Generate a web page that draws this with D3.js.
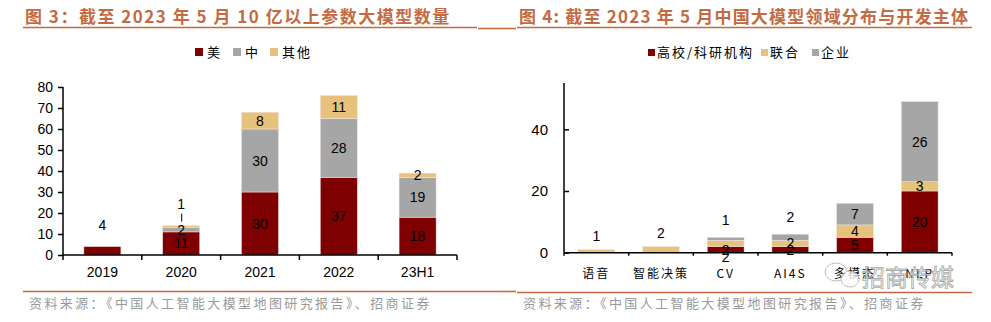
<!DOCTYPE html>
<html><head><meta charset="utf-8">
<script src="https://cdn.jsdelivr.net/npm/d3@7"></script>
<style>
body{margin:0;background:#fff;}
svg{display:block;}
</style></head>
<body>
<svg id="c" width="991" height="322"></svg>
<script>
// ---- Data: chart 3 ----
const years = ["2019","2020","2021","2022","23H1"];
const usVals = [4, 11, 30, 37, 18];
const cnVals = [0, 2, 30, 28, 19];
const otherVals = [0, 1, 8, 11, 2];
const legend1 = ["美","中","其他"];
const yTicks1 = [0,10,20,30,40,50,60,70,80];

// ---- Data: chart 4 ----
const domains = ["语音","智能决策","CV","AI4S","多模态","NLP"];
const uniVals = [0, 0, 2, 2, 5, 20];
const jointVals = [1, 2, 2, 2, 4, 3];
const corpVals = [0, 0, 1, 2, 7, 26];
const legend2 = ["高校/科研机构","联合","企业"];
const yTicks2 = [0,20,40];

const title1 = "图 3：截至 2023 年 5 月 10 亿以上参数大模型数量";
const title2 = "图 4: 截至 2023 年 5 月中国大模型领域分布与开发主体";
const source = "资料来源：《中国人工智能大模型地图研究报告》、招商证券";

const colors = ["#7f0000", "#a6a6a6", "#e6c27c"];
const colors2 = ["#7f0000", "#e6c27c", "#a6a6a6"];
const accent = "#c46a42";
const numFont = "'Liberation Sans', Arial, sans-serif";
const cjkFont = "'Noto Sans CJK SC', sans-serif";

const svg = d3.select("#c");

// Titles & rules
svg.append("text").attr("x",25).attr("y",23).attr("fill",accent)
  .attr("font-family",cjkFont).attr("font-weight","bold").attr("font-size",17).attr("letter-spacing",1.5).text(title1);
svg.append("text").attr("x",519).attr("y",23).attr("fill",accent)
  .attr("font-family",cjkFont).attr("font-weight","bold").attr("font-size",17).attr("letter-spacing",1.2).text(title2);
const rules = [[23,477,27.5],[478,500,28.5],[500,516,28.5],[517,972,27.5],[23,500,291.5],[500,516,291.5],[517,972,292.5]];
rules.forEach(r=>svg.append("line").attr("x1",r[0]).attr("x2",r[1]).attr("y1",r[2]).attr("y2",r[2])
  .attr("stroke",accent).attr("stroke-width",1.6));
svg.append("text").attr("x",29).attr("y",308).attr("fill","#9a9a9a").attr("font-family",cjkFont)
  .attr("font-size",13).attr("letter-spacing",2.4).text(source);
svg.append("text").attr("x",523).attr("y",308).attr("fill","#9a9a9a").attr("font-family",cjkFont)
  .attr("font-size",13).attr("letter-spacing",2.4).text(source);

// ---------- Chart 3 ----------
{
  const g = svg.append("g");
  const x = d3.scaleBand().domain(years).range([63,457]).paddingInner(0.53).paddingOuter(0.265);
  const y = d3.scaleLinear().domain([0,80]).range([255,87]);
  const table = years.map((yr,i)=>({key:yr, s0:usVals[i], s1:cnVals[i], s2:otherVals[i]}));
  const stack = d3.stack().keys(["s0","s1","s2"])(table);
  stack.forEach((layer,k)=>{
    g.selectAll(null).data(layer).join("rect")
      .attr("x",d=>x(d.data.key)).attr("width",x.bandwidth())
      .attr("y",d=>y(d[1])).attr("height",d=>y(d[0])-y(d[1]))
      .attr("fill",colors[k]).attr("stroke","#f3e3e3").attr("stroke-width",0.5);
  });
  // Axes
  const ya = d3.axisLeft(y).tickValues(yTicks1).tickSize(5).tickPadding(5);
  const yg = g.append("g").attr("transform","translate(63,0)").call(ya);
  yg.select(".domain").attr("stroke","#000").attr("stroke-width",1.5).attr("d","M0,87V255");
  yg.selectAll("text").attr("font-family",numFont).attr("font-size",14).attr("fill","#000");
  yg.selectAll(".tick line").attr("stroke-width",1.5);
  const xg = g.append("g").attr("transform","translate(0,255)");
  xg.append("line").attr("x1",63).attr("x2",457).attr("stroke","#000").attr("stroke-width",1.6);
  const edges = years.map(d=>x(d)-x.step()*x.paddingInner()/2).concat([457]);
  edges.forEach(e=>xg.append("line").attr("x1",e).attr("x2",e).attr("y1",0).attr("y2",5).attr("stroke","#000").attr("stroke-width",1.5));
  years.forEach(yr=>xg.append("text").attr("x",x(yr)+x.bandwidth()/2).attr("y",22).attr("text-anchor","middle")
    .attr("font-family",numFont).attr("font-size",14).text(yr));
  // Labels
  stack.forEach((layer,k)=>{
    layer.forEach((d,i)=>{
      const v = d[1]-d[0];
      if(!v) return;
      const cx = x(d.data.key)+x.bandwidth()/2;
      let cy = y((d[0]+d[1])/2)+5;
      if(d.data.key==="2019") cy = y(d[1])-17;
      if(d.data.key==="2020" && k===2){
        cy = y(d[1])-17;
        g.append("line").attr("x1",cx+0.5).attr("x2",cx+0.5).attr("y1",y(d[1])-12).attr("y2",y(d[1])-4).attr("stroke","#000").attr("stroke-width",1);
      }
      g.append("text").attr("x",cx).attr("y",cy).attr("text-anchor","middle")
        .attr("font-family",numFont).attr("font-size",14).attr("fill","#000").text(v);
    });
  });
  // Legend
  const lx = [195,233,270];
  legend1.forEach((t,i)=>{
    g.append("rect").attr("x",lx[i]).attr("y",48).attr("width",8).attr("height",8).attr("fill",colors[i]);
    g.append("text").attr("x",lx[i]+12).attr("y",57).attr("font-family",cjkFont).attr("font-size",13).attr("letter-spacing",2).text(t);
  });
}

// ---------- Chart 4 ----------
{
  const g = svg.append("g");
  const x = d3.scaleBand().domain(domains).range([564,952]).paddingInner(0.43).paddingOuter(0.215);
  const y = d3.scaleLinear().domain([0,55]).range([252.7,83]);
  const table = domains.map((c,i)=>({key:c, s0:uniVals[i], s1:jointVals[i], s2:corpVals[i]}));
  const stack = d3.stack().keys(["s0","s1","s2"])(table);
  stack.forEach((layer,k)=>{
    g.selectAll(null).data(layer.filter(d=>d[1]>d[0])).join("rect")
      .attr("x",d=>x(d.data.key)).attr("width",x.bandwidth())
      .attr("y",d=>y(d[1])).attr("height",d=>y(d[0])-y(d[1]))
      .attr("fill",colors2[k]).attr("stroke","#f3e3e3").attr("stroke-width",0.5);
  });
  const ya = d3.axisLeft(y).tickValues(yTicks2).tickSize(-5).tickPadding(16);
  const yg = g.append("g").attr("transform","translate(564,0)").call(ya);
  yg.select(".domain").attr("stroke","#000").attr("stroke-width",1.5).attr("d","M0,83V252.7");
  yg.selectAll("text").attr("font-family",numFont).attr("font-size",15).attr("fill","#000");
  yg.selectAll(".tick line").attr("stroke-width",1.5);
  const xg = g.append("g").attr("transform","translate(0,252.7)");
  xg.append("line").attr("x1",564).attr("x2",952).attr("stroke","#000").attr("stroke-width",1.6);
  const edges = domains.map(d=>x(d)-x.step()*x.paddingInner()/2).concat([952]);
  edges.forEach(e=>xg.append("line").attr("x1",e).attr("x2",e).attr("y1",0).attr("y2",3).attr("stroke","#000").attr("stroke-width",1.5));
  domains.forEach(c=>xg.append("text").attr("x",x(c)+x.bandwidth()/2).attr("y",25).attr("text-anchor","middle")
    .attr("font-family",cjkFont).attr("font-size",12).attr("letter-spacing",2).text(c));
  // Labels
  stack.forEach((layer,k)=>{
    layer.forEach((d,i)=>{
      const v = d[1]-d[0];
      if(!v) return;
      const cx = x(d.data.key)+x.bandwidth()/2;
      let cy = y((d[0]+d[1])/2)+5;
      if(d.data.key==="语音"||d.data.key==="智能决策") cy = y(d[1])-9;
      if((d.data.key==="CV"||d.data.key==="AI4S") && k===2) cy = y(d[1])-12;
      if(d.data.key==="CV" && k<2) cy += 7;
      g.append("text").attr("x",cx).attr("y",cy).attr("text-anchor","middle")
        .attr("font-family",numFont).attr("font-size",14).attr("fill","#000").text(v);
    });
  });
  const lx = [648,761,812];
  legend2.forEach((t,i)=>{
    g.append("rect").attr("x",lx[i]).attr("y",49).attr("width",7).attr("height",7).attr("fill",colors2[i]);
    g.append("text").attr("x",lx[i]+9).attr("y",57).attr("font-family",cjkFont).attr("font-size",13).attr("letter-spacing",2).text(t);
  });
  // watermark
  const wm = g.append("g").attr("opacity",0.75);
  wm.append("ellipse").attr("cx",836).attr("cy",272).attr("rx",11).attr("ry",9).attr("fill","none").attr("stroke","#aaa").attr("stroke-width",1);
  wm.append("ellipse").attr("cx",850).attr("cy",279).attr("rx",9).attr("ry",8).attr("fill","#fff").attr("stroke","#aaa").attr("stroke-width",1);
  wm.append("text").attr("x",862).attr("y",286).attr("font-family",cjkFont).attr("font-size",23)
    .attr("fill","#fff").attr("stroke","#888").attr("stroke-width",0.8).text("招商传媒");
}
</script>
</body></html>
